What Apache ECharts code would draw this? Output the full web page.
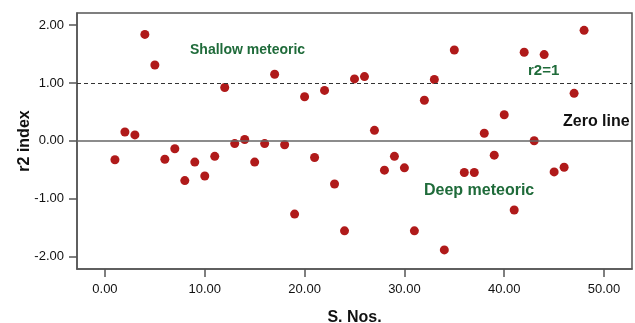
<!DOCTYPE html>
<html>
<head>
<meta charset="utf-8">
<script src="https://cdn.jsdelivr.net/npm/echarts@6/dist/echarts.min.js"></script>
<style>
html,body{margin:0;padding:0;background:#fff;}
#chart{width:635px;height:323px;}
</style>
</head>
<body>
<div id="chart"></div>
<script>
var sampleNos = [1,2,3,4,5,6,7,8,9,10,11,12,13,14,15,16,17,18,19,20,21,22,23,24,25,26,27,28,29,30,31,32,33,34,35,36,37,38,39,40,41,42,43,44,45,46,47,48];
var r2Index = [-0.33,0.15,0.10,1.84,1.31,-0.32,-0.14,-0.69,-0.37,-0.61,-0.27,0.92,-0.05,0.02,-0.37,-0.05,1.15,-0.07,-1.27,0.76,-0.29,0.87,-0.75,-1.56,1.07,1.11,0.18,-0.51,-0.27,-0.47,-1.56,0.70,1.06,-1.89,1.57,-0.55,-0.55,0.13,-0.25,0.45,-1.20,1.53,0.00,1.49,-0.54,-0.46,0.82,1.91];
var xTicks = [0,10,20,30,40,50];
var yTicks = [-2,-1,0,1,2];
var refLines = [0,1];
var annotations = ["Shallow meteoric","r2=1","Zero line","Deep meteoric"];

var points = sampleNos.map(function(x,i){return [x,r2Index[i]];});
var axisColor = '#555';
var green = '#1f6b3a';
var font = '"Liberation Sans", Arial, sans-serif';

var chart = echarts.init(document.getElementById('chart'));
chart.setOption({
  animation:false,
  backgroundColor:'#fff',
  grid:{left:77,top:13,right:3,bottom:54,outerBoundsMode:'none',containLabel:false,show:true,borderColor:axisColor,borderWidth:1.5,backgroundColor:'transparent'},
  xAxis:{
    type:'value',min:-2.8,max:52.8,
    name:'S. Nos.',nameLocation:'middle',nameGap:41,nameMoveOverlap:false,
    nameTextStyle:{fontFamily:font,fontWeight:'bold',fontSize:16,color:'#111'},
    axisLine:{show:true,onZero:false,lineStyle:{color:axisColor,width:1.5}},
    axisTick:{show:true,inside:false,length:8,customValues:xTicks,lineStyle:{color:axisColor,width:1.5}},
    axisLabel:{customValues:xTicks,margin:14,fontFamily:font,fontSize:13,color:'#111',formatter:function(v){return v.toFixed(2);}},
    splitLine:{show:false}
  },
  yAxis:{
    type:'value',min:-2.22,max:2.21,
    name:'r2 index',nameLocation:'middle',nameGap:44,nameRotate:90,nameMoveOverlap:false,
    nameTextStyle:{fontFamily:font,fontWeight:'bold',fontSize:16,color:'#111'},
    axisLine:{show:true,onZero:false,lineStyle:{color:axisColor,width:1.5}},
    axisTick:{show:true,inside:false,length:8,customValues:yTicks,lineStyle:{color:axisColor,width:1.5}},
    axisLabel:{customValues:yTicks,margin:13,fontFamily:font,fontSize:13,color:'#111',formatter:function(v){return v.toFixed(2);}},
    splitLine:{show:false}
  },
  series:[{
    type:'scatter',
    data:points,
    symbol:'circle',symbolSize:9,
    itemStyle:{color:'#b01a1a',opacity:1},
    markLine:{
      silent:true,symbol:['none','none'],label:{show:false},animation:false,
      data:[
        {yAxis:refLines[0],lineStyle:{color:'#666',width:1.5,type:'solid'}},
        {yAxis:refLines[1],lineStyle:{color:'#333',width:1,type:[4,3]}}
      ]
    },
    z:3
  }],
  graphic:[
    {type:'text',left:190,top:43,style:{text:annotations[0],fontFamily:font,fontWeight:'bold',fontSize:14,fill:green}},
    {type:'text',left:528,top:63,style:{text:annotations[1],fontFamily:font,fontWeight:'bold',fontSize:15,fill:green}},
    {type:'text',left:563,top:114,style:{text:annotations[2],fontFamily:font,fontWeight:'bold',fontSize:16,fill:'#111'}},
    {type:'text',left:424,top:183,style:{text:annotations[3],fontFamily:font,fontWeight:'bold',fontSize:16,fill:green}}
  ]
});
</script>
</body>
</html>
